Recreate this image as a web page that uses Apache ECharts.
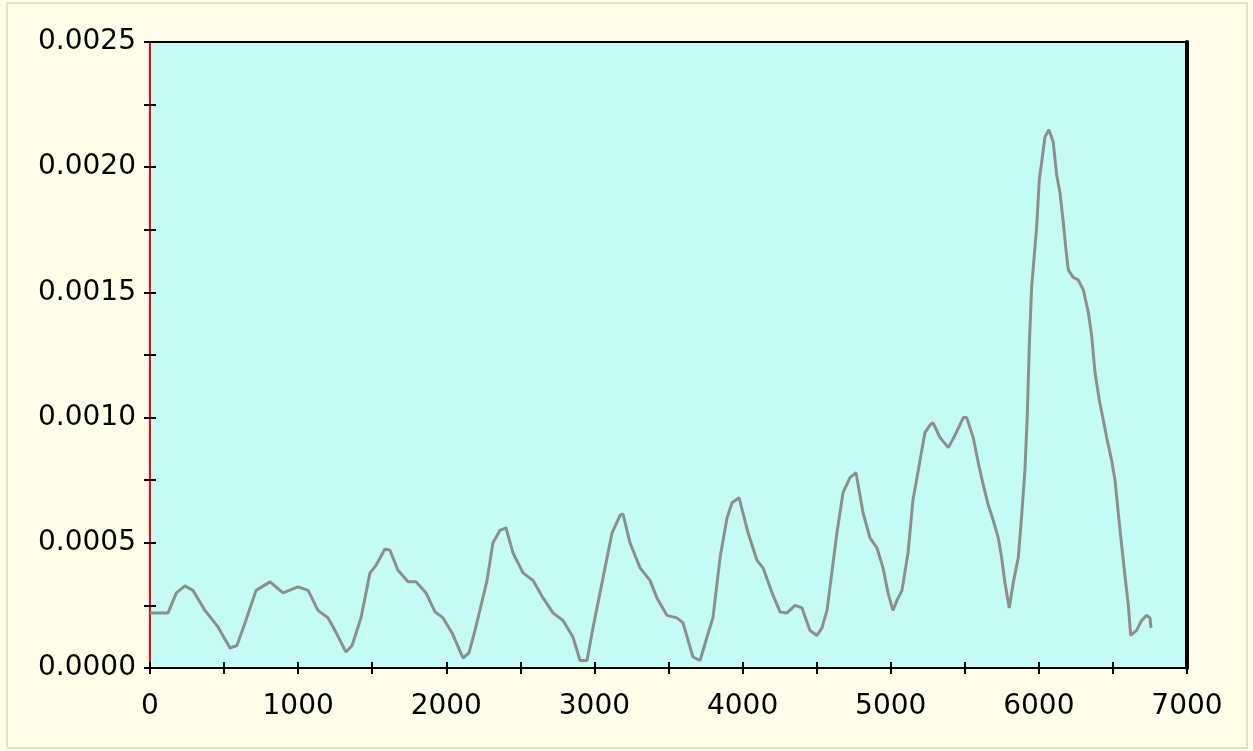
<!DOCTYPE html>
<html>
<head>
<meta charset="utf-8">
<script src="https://cdn.jsdelivr.net/npm/echarts@6/dist/echarts.min.js"></script>
<style>
html,body{margin:0;padding:0;background:#FFFDE8;}
#chart{width:1253px;height:751px;}
</style>
</head>
<body>
<div id="chart"></div>
<script>
// Distance / position values (x) and measured signal (y)
var xValues = [0,122,178,236,290,371,459,540,587,641,716,810,898,999,1067,1134,1202,1249,1323,1364,1424,1485,1526,1586,1620,1674,1742,1796,1863,1924,1978,2039,2113,2153,2194,2275,2315,2363,2403,2450,2518,2585,2653,2720,2788,2855,2903,2950,2990,3058,3119,3173,3193,3240,3308,3375,3422,3490,3557,3598,3665,3713,3760,3800,3848,3895,3929,3976,4037,4097,4138,4199,4253,4300,4354,4401,4455,4502,4536,4570,4637,4678,4725,4766,4813,4860,4907,4948,4982,5015,5042,5076,5117,5150,5198,5231,5265,5285,5333,5389,5434,5490,5513,5557,5591,5625,5659,5692,5726,5749,5771,5800,5827,5861,5884,5906,5922,5935,5951,5985,6003,6019,6041,6068,6097,6120,6142,6165,6183,6199,6232,6266,6300,6334,6356,6379,6408,6435,6458,6491,6514,6536,6559,6581,6604,6620,6660,6694,6728,6750,6757];
var yValues = [0.00022,0.00022,0.0003,0.000328,0.00031,0.00023,0.000164,0.00008,0.00009,0.00018,0.00031,0.000344,0.0003,0.000324,0.00031,0.00023,0.0002,0.00015,0.000064,0.00009,0.0002,0.00038,0.00041,0.000475,0.00047,0.00039,0.000344,0.000344,0.0003,0.000224,0.0002,0.00014,0.00004,0.00006,0.00015,0.00035,0.0005,0.00055,0.00056,0.00046,0.00038,0.00035,0.00028,0.00022,0.00019,0.000124,0.00003,0.00003,0.00016,0.00036,0.00054,0.00061,0.000615,0.0005,0.0004,0.00035,0.00028,0.00021,0.0002,0.00018,0.000044,0.00003,0.000124,0.0002,0.00044,0.0006,0.00066,0.00068,0.00054,0.00043,0.0004,0.0003,0.000224,0.00022,0.00025,0.00024,0.00015,0.00013,0.00016,0.00023,0.00054,0.0007,0.00076,0.00078,0.00062,0.00052,0.00048,0.0004,0.0003,0.00023,0.00027,0.00031,0.00046,0.00067,0.00083,0.00094,0.00097,0.00098,0.00092,0.00088,0.00093,0.001,0.001,0.00092,0.00082,0.00073,0.00065,0.00059,0.00052,0.00044,0.00034,0.00024,0.00034,0.00044,0.00061,0.00079,0.00101,0.00128,0.00152,0.00176,0.00195,0.00202,0.00212,0.00215,0.0021,0.00197,0.0019,0.00178,0.00167,0.00159,0.00156,0.00155,0.00151,0.00142,0.00133,0.00118,0.00107,0.00099,0.00092,0.00083,0.00075,0.00062,0.00049,0.00037,0.00025,0.00013,0.00015,0.00019,0.00021,0.0002,0.00016];
var xTickLabels = ['0','1000','2000','3000','4000','5000','6000','7000'];
var yTickLabels = ['0.0000','0.0005','0.0010','0.0015','0.0020','0.0025'];

var seriesData = xValues.map(function(x,i){return [x,yValues[i]];});
var labelFont = {fontFamily:'DejaVu Sans', fontSize:28, color:'#000'};

var chart = echarts.init(document.getElementById('chart'));
chart.setOption({
  backgroundColor:'#FFFDE8',
  animation:false,
  graphic:[{type:'rect',shape:{x:7,y:3,width:1240,height:745},style:{fill:'none',stroke:'#E2E2C8',lineWidth:2},z:-1}],
  grid:{left:150,right:66,top:42,bottom:83,show:true,backgroundColor:'#C4FCF5',borderColor:'#000',borderWidth:2},
  xAxis:[{
    type:'value',min:0,max:7000,interval:500,
    axisLine:{show:true,lineStyle:{color:'#000',width:2}},
    axisTick:{show:true,length:6,lineStyle:{color:'#000',width:2}},
    splitLine:{show:false},
    axisLabel:Object.assign({margin:25,formatter:function(v){var s=String(v);return xTickLabels.indexOf(s)>=0?s:'';}},labelFont)
  },{
    type:'value',min:0,max:7000,interval:500,position:'bottom',
    axisLine:{show:false},axisTick:{show:true,inside:true,length:6,lineStyle:{color:'#000',width:2}},
    axisLabel:{show:false},splitLine:{show:false}
  }],
  yAxis:[{
    type:'value',min:0,max:0.0025,interval:0.00025,
    axisLine:{show:true,lineStyle:{color:'#FF0000',width:2}},
    axisTick:{show:true,length:6,lineStyle:{color:'#000',width:2}},
    splitLine:{show:false},
    axisLabel:Object.assign({margin:14,formatter:function(v){var s=v.toFixed(4);return yTickLabels.indexOf(s)>=0 && Math.abs(v/0.0005-Math.round(v/0.0005))<1e-6?s:'';}},labelFont)
  },{
    type:'value',min:0,max:0.0025,interval:0.00025,position:'left',
    axisLine:{show:false},axisTick:{show:true,inside:true,length:6,lineStyle:{color:'#000',width:2}},
    axisLabel:{show:false},splitLine:{show:false}
  },{
    type:'value',min:0,max:0.0025,position:'right',
    axisLine:{show:true,lineStyle:{color:'#000',width:4}},
    axisTick:{show:false},axisLabel:{show:false},splitLine:{show:false}
  }],
  series:[{
    type:'line',data:seriesData,xAxisIndex:0,yAxisIndex:0,
    showSymbol:false,smooth:false,
    lineStyle:{color:'#8E8E8E',width:3}
  }]
});
</script>
</body>
</html>
